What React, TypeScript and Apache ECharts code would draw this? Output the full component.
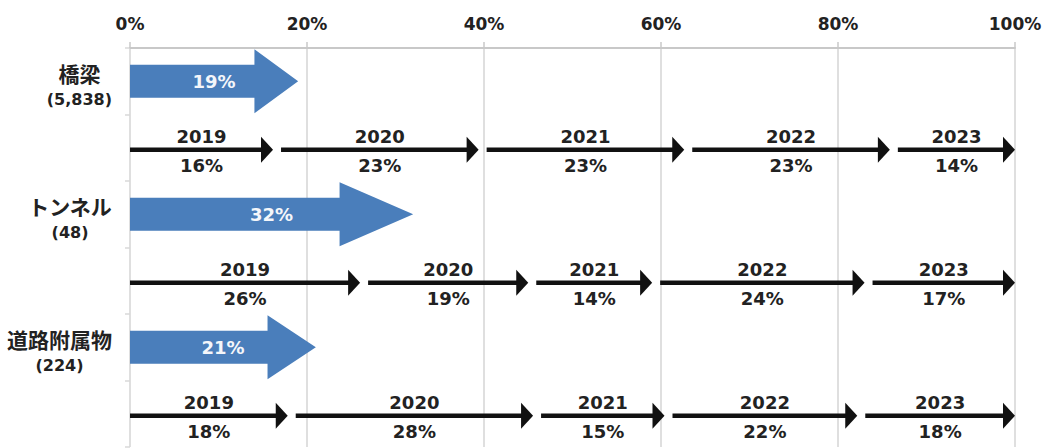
import React, { useEffect, useRef } from 'react';
import * as echarts from 'echarts';

const assetTypes = ['橋梁', 'トンネル', '道路附属物'];
const assetCounts = ['5,838', '48', '224'];
const progress = [19, 32, 21];
const years = ['2019', '2020', '2021', '2022', '2023'];
const bridgeShares = [16, 23, 23, 23, 14];
const tunnelShares = [26, 19, 14, 24, 17];
const roadShares = [18, 28, 15, 22, 18];
const xTicks = [0, 20, 40, 60, 80, 100];

const shareRows = [bridgeShares, tunnelShares, roadShares];

const FONT = '"DejaVu Sans", "Noto Sans CJK JP", sans-serif';
const JP_FONT = '"Noto Sans CJK JP", "DejaVu Sans", sans-serif';

export default function App() {
  const ref = useRef<HTMLDivElement>(null);

  useEffect(() => {
    if (!ref.current) return;
    const chart = echarts.init(ref.current, undefined, { renderer: 'svg' });

    const rowKeys: string[] = [];
    assetTypes.forEach((t, i) => {
      rowKeys.push('p' + i);
      rowKeys.push('y' + i);
    });

    const blueData = progress.map((v, i) => [v, i * 2]);

    const segData: any[] = [];
    const segInfo: { year: string; pct: number }[] = [];
    shareRows.forEach((shares, i) => {
      const total = shares.reduce((a, b) => a + b, 0);
      let cum = 0;
      shares.forEach((s, j) => {
        const start = (cum / total) * 100;
        cum += s;
        const end = (cum / total) * 100;
        segData.push([start, end, i * 2 + 1]);
        segInfo.push({ year: years[j], pct: s });
      });
    });

    const option: any = {
      animation: false,
      backgroundColor: '#ffffff',
      grid: { left: 130, right: 38, top: 48, bottom: 1 },
      xAxis: {
        type: 'value',
        position: 'top',
        min: 0,
        max: 100,
        interval: 20,
        axisLine: { show: true, lineStyle: { color: '#c8c8c8', width: 2 } },
        axisTick: { show: true, length: 6, lineStyle: { color: '#c8c8c8', width: 1.5 } },
        splitLine: { show: true, lineStyle: { color: '#d4d4d4', width: 1.5 } },
        axisLabel: {
          margin: 16,
          color: '#222',
          fontFamily: FONT,
          fontWeight: 'bold',
          fontSize: 17,
          formatter: (v: number) => (xTicks.includes(v) ? v + '%' : ''),
        },
      },
      yAxis: {
        type: 'category',
        inverse: true,
        data: rowKeys,
        axisLine: { show: false },
        axisTick: { show: true, length: 5, lineStyle: { color: '#d8d8d8', width: 1.5 } },
        splitLine: { show: false },
        axisLabel: {
          margin: 18,
          interval: 0,
          padding: [10, 0, 0, 0],
          formatter: (val: string) => {
            if (val[0] !== 'p') return '';
            const i = Number(val.slice(1));
            return '{n|' + assetTypes[i] + '}\n{c|(' + assetCounts[i] + ')}';
          },
          rich: {
            n: {
              align: 'center',
              fontFamily: JP_FONT,
              fontWeight: 'bold',
              fontSize: 21,
              lineHeight: 27,
              color: '#222',
            },
            c: {
              align: 'center',
              fontFamily: FONT,
              fontWeight: 'bold',
              fontSize: 16,
              lineHeight: 27,
              color: '#222',
            },
          },
        },
      },
      series: [
        {
          type: 'custom',
          data: blueData,
          renderItem: (params: any, api: any) => {
            const v = api.value(0);
            const row = api.value(1);
            const p0 = api.coord([0, row]);
            const p1 = api.coord([v, row]);
            const x0 = p0[0];
            const x1 = p1[0];
            const y = p0[1];
            const xh = x1 - 0.26 * (x1 - x0);
            const bh = 16.5;
            const hh = 32;
            return {
              type: 'group',
              children: [
                {
                  type: 'polygon',
                  shape: {
                    points: [
                      [x0, y - bh],
                      [xh, y - bh],
                      [xh, y - hh],
                      [x1, y],
                      [xh, y + hh],
                      [xh, y + bh],
                      [x0, y + bh],
                    ],
                  },
                  style: { fill: '#4A7EBB' },
                },
                {
                  type: 'text',
                  x: (x0 + x1) / 2,
                  y: y,
                  style: {
                    text: progress[params.dataIndex] + '%',
                    fill: '#f4f6fa',
                    font: 'bold 18px ' + FONT,
                    textAlign: 'center',
                    textVerticalAlign: 'middle',
                  },
                },
              ],
            };
          },
        },
        {
          type: 'custom',
          data: segData,
          renderItem: (params: any, api: any) => {
            const s = api.value(0);
            const e = api.value(1);
            const row = api.value(2);
            const p0 = api.coord([s, row]);
            const p1 = api.coord([e, row]);
            const x0 = p0[0] + (s > 0 ? 8 : 0);
            const x1 = p1[0];
            const y = p0[1] + 2;
            const hl = 12;
            const hw = 13;
            const info = segInfo[params.dataIndex];
            return {
              type: 'group',
              children: [
                {
                  type: 'line',
                  shape: { x1: x0, y1: y, x2: x1 - hl + 2, y2: y },
                  style: { stroke: '#111', lineWidth: 4.5 },
                },
                {
                  type: 'polygon',
                  shape: {
                    points: [
                      [x1 - hl, y - hw],
                      [x1, y],
                      [x1 - hl, y + hw],
                    ],
                  },
                  style: { fill: '#111' },
                },
                {
                  type: 'text',
                  x: (x0 + x1) / 2,
                  y: y - 13,
                  style: {
                    text: info.year,
                    fill: '#222',
                    font: 'bold 18px ' + FONT,
                    textAlign: 'center',
                    textVerticalAlign: 'middle',
                  },
                },
                {
                  type: 'text',
                  x: (x0 + x1) / 2,
                  y: y + 16,
                  style: {
                    text: info.pct + '%',
                    fill: '#222',
                    font: 'bold 18px ' + FONT,
                    textAlign: 'center',
                    textVerticalAlign: 'middle',
                  },
                },
              ],
            };
          },
        },
      ],
    };

    chart.setOption(option);
    return () => chart.dispose();
  }, []);

  return (
    <div
      ref={ref}
      style={{ position: 'fixed', left: 0, top: 0, width: 1053, height: 448 }}
    />
  );
}
